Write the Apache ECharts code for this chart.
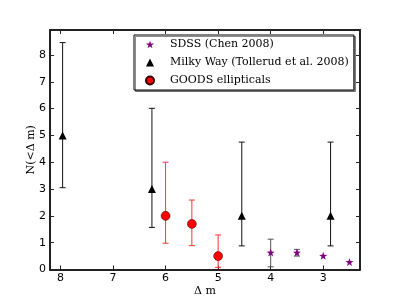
<!DOCTYPE html>
<html><head><meta charset="utf-8">
<script src="https://cdn.jsdelivr.net/npm/echarts@6/dist/echarts.min.js"></script>
<style>html,body{margin:0;padding:0;background:#fff}#c{width:400px;height:300px}</style>
</head><body><div id="c"></div>
<script>
// Data
var xTicks = [3, 4, 5, 6, 7, 8];
var sdssX = [4.0, 3.5, 3.0, 2.5];
var sdssY = [0.63, 0.63, 0.51, 0.28];
var sdssLo = [0.10, 0.50, 0.51, 0.28];
var sdssHi = [1.13, 0.75, 0.51, 0.28];
var mwX = [7.96, 6.26, 4.55, 2.86];
var mwY = [5, 3, 2, 2];
var mwLo = [3.05, 1.57, 0.88, 0.88];
var mwHi = [8.46, 6.01, 4.75, 4.75];
var gdX = [6.0, 5.5, 5.0];
var gdY = [2.0, 1.7, 0.5];
var gdLo = [0.98, 0.89, 0.08];
var gdHi = [4.0, 2.59, 1.29];

var STAR = 'path://M0,-10 L2.35,-3.24 L9.51,-3.09 L3.8,1.24 L5.88,8.09 L0,4 L-5.88,8.09 L-3.8,1.24 L-9.51,-3.09 L-2.35,-3.24 Z';

function pts(xs, ys) { return xs.map(function (x, i) { return [x, ys[i]]; }); }
function errs(xs, lo, hi) { return xs.map(function (x, i) { return [x, lo[i], hi[i]]; }); }
function errSeries(data, color) {
  return {
    type: 'custom', z: 1, silent: true, data: data,
    renderItem: function (params, api) {
      var x = api.value(0), lo = api.value(1), hi = api.value(2);
      if (lo === hi) return null;
      var p1 = api.coord([x, lo]), p2 = api.coord([x, hi]);
      var w = 3, st = { stroke: color, lineWidth: 1 };
      return { type: 'group', children: [
        { type: 'line', shape: { x1: p1[0], y1: p1[1], x2: p2[0], y2: p2[1] }, style: st },
        { type: 'line', shape: { x1: p1[0] - w, y1: p1[1], x2: p1[0] + w, y2: p1[1] }, style: st },
        { type: 'line', shape: { x1: p2[0] - w, y1: p2[1], x2: p2[0] + w, y2: p2[1] }, style: st }
      ]};
    }
  };
}

var axisLine = { show: true, onZero: false, lineStyle: { color: '#222', width: 2 } };
var tick = { show: true, inside: true, length: 4, lineStyle: { color: '#222', width: 1 } };
var tickFont = { fontFamily: 'DejaVu Sans', fontSize: 11, color: '#000' };

var chart = echarts.init(document.getElementById('c'), null, { renderer: 'canvas' });
chart.setOption({
  animation: false,
  grid: { left: 50, right: 40, top: 30, bottom: 30.5, outerBoundsMode: 'none', containLabel: false },
  xAxis: [{
    type: 'value', min: 2.3, max: 8.2, inverse: true, position: 'bottom',
    axisLine: axisLine,
    axisTick: Object.assign({ customValues: xTicks }, tick),
    axisLabel: Object.assign({ customValues: xTicks, margin: 3 }, tickFont),
    splitLine: { show: false },
    name: 'Δ m', nameLocation: 'middle', nameGap: 16, nameMoveOverlap: false,
    nameTextStyle: { fontFamily: 'DejaVu Serif', fontSize: 11, color: '#000' }
  }, {
    type: 'value', min: 2.3, max: 8.2, inverse: true, position: 'top',
    axisLine: axisLine,
    axisTick: Object.assign({ customValues: xTicks }, tick),
    axisLabel: { show: false }, splitLine: { show: false }
  }],
  yAxis: [{
    type: 'value', min: 0, max: 8.93, interval: 1, position: 'left',
    axisLine: axisLine, axisTick: tick,
    axisLabel: Object.assign({ margin: 4, showMaxLabel: false }, tickFont),
    splitLine: { show: false },
    name: 'N(<Δ m)', nameLocation: 'middle', nameGap: 13, nameMoveOverlap: false,
    nameTextStyle: { fontFamily: 'DejaVu Serif', fontSize: 11, color: '#000' }
  }, {
    type: 'value', min: 0, max: 8.93, interval: 1, position: 'right',
    axisLine: axisLine, axisTick: tick,
    axisLabel: { show: false }, splitLine: { show: false }
  }],
  legend: {
    left: 134, top: 35, orient: 'vertical',
    width: 220,
    padding: [4, 5, 4, 11],
    itemWidth: 8, itemHeight: 8, itemGap: 7,
    backgroundColor: '#fff',
    borderColor: '#000', borderWidth: 1, borderRadius: 0,
    shadowColor: 'rgba(0,0,0,0.45)', shadowOffsetX: 1.5, shadowOffsetY: 1.5,
    textStyle: { fontFamily: 'DejaVu Serif', fontSize: 11, color: '#000', padding: [0, 0, 0, 11] },
    data: ['SDSS (Chen 2008)', 'Milky Way (Tollerud et al. 2008)', 'GOODS ellipticals']
  },
  series: [
    errSeries(errs(sdssX, sdssLo, sdssHi), '#555'),
    errSeries(errs(mwX, mwLo, mwHi), '#111'),
    errSeries(errs(gdX, gdLo, gdHi), '#f33'),
    { name: 'SDSS (Chen 2008)', type: 'scatter', z: 3, symbol: STAR, symbolSize: 8,
      itemStyle: { color: '#800080', opacity: 1 }, data: pts(sdssX, sdssY) },
    { name: 'Milky Way (Tollerud et al. 2008)', type: 'scatter', z: 3, symbol: 'triangle', symbolSize: 8,
      itemStyle: { color: '#000', opacity: 1 }, data: pts(mwX, mwY) },
    { name: 'GOODS ellipticals', type: 'scatter', z: 3, symbol: 'circle', symbolSize: 9,
      itemStyle: { color: '#f00', borderColor: '#300', borderWidth: 0.5, opacity: 1 }, data: pts(gdX, gdY) }
  ]
});
</script></body></html>
